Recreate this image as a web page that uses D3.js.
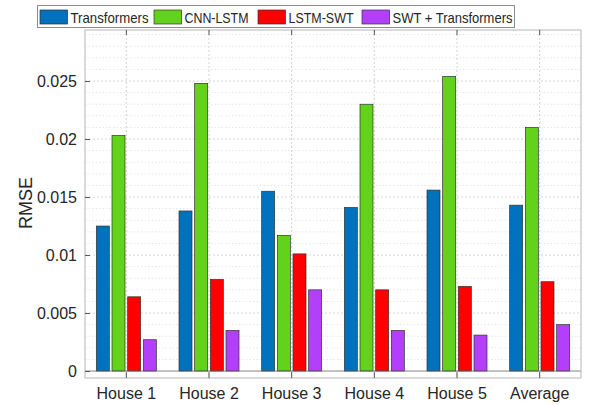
<!DOCTYPE html>
<html>
<head>
<meta charset="utf-8">
<script src="https://cdn.jsdelivr.net/npm/d3@7"></script>
<style>
  body { margin: 0; background: #fff; }
  svg { font-family: "Liberation Sans", Arial, sans-serif; }
</style>
</head>
<body>
<svg width="589" height="405"></svg>
<script>
const houses = ['House 1', 'House 2', 'House 3', 'House 4', 'House 5', 'Average'];
const models = ['Transformers', 'CNN-LSTM', 'LSTM-SWT', 'SWT + Transformers'];

const transformers = [0.0125, 0.0138, 0.0155, 0.0141, 0.0156, 0.0143];
const cnnLstm      = [0.0203, 0.0248, 0.0117, 0.0230, 0.0254, 0.0210];
const lstmSwt      = [0.0064, 0.0079, 0.0101, 0.0070, 0.0073, 0.0077];
const swtTrans     = [0.0027, 0.0035, 0.0070, 0.0035, 0.0031, 0.0040];

const yTicks = [0, 0.005, 0.01, 0.015, 0.02, 0.025];

const colors = ['#0072BD', '#62D31A', '#FF0000', '#B43FFB'];

const series = [transformers, cnnLstm, lstmSwt, swtTrans];
const data = houses.map((h, i) => ({ house: h, values: series.map(s => s[i]) }));

const svg = d3.select('svg');
const margin = { left: 85, right: 8, top: 30, bottom: 27 };
const width = +svg.attr('width');
const height = +svg.attr('height');

const x = d3.scaleBand()
    .domain(houses)
    .range([margin.left, width - margin.right]);

const xInner = d3.scaleBand()
    .domain(models)
    .range([0, 60])
    .paddingInner(0.17);

const y = d3.scaleLinear()
    .domain([-0.0006, 0.0294])
    .range([height - margin.bottom, margin.top]);

// minor grid
const minor = d3.range(0.001, 0.0291, 0.001).filter(v => Math.abs(v / 0.005 - Math.round(v / 0.005)) > 1e-6);
svg.append('g').selectAll('line').data(minor).enter()
    .append('line')
    .attr('x1', margin.left).attr('x2', width - margin.right)
    .attr('y1', d => y(d)).attr('y2', d => y(d))
    .attr('stroke', '#e6e6e6')
    .attr('stroke-dasharray', '1.5,2');

// major grid
svg.append('g').selectAll('line').data(yTicks.slice(1)).enter()
    .append('line')
    .attr('x1', margin.left).attr('x2', width - margin.right)
    .attr('y1', d => y(d)).attr('y2', d => y(d))
    .attr('stroke', '#d4d4d4')
    .attr('stroke-dasharray', '2,2');

svg.append('g').selectAll('line').data(houses).enter()
    .append('line')
    .attr('x1', d => x(d) + x.bandwidth() / 2).attr('x2', d => x(d) + x.bandwidth() / 2)
    .attr('y1', margin.top).attr('y2', height - margin.bottom)
    .attr('stroke', '#d4d4d4')
    .attr('stroke-dasharray', '2,2');

// bars
const groups = svg.append('g').selectAll('g').data(data).enter()
    .append('g')
    .attr('transform', d => `translate(${x(d.house) + x.bandwidth() / 2 - 30},0)`);

groups.selectAll('rect').data(d => d.values.map((v, i) => ({ model: models[i], v, i }))).enter()
    .append('rect')
    .attr('x', d => xInner(d.model))
    .attr('width', xInner.bandwidth())
    .attr('y', d => y(d.v))
    .attr('height', d => y(0) - y(d.v))
    .attr('fill', d => colors[d.i])
    .attr('stroke', '#333')
    .attr('stroke-width', 0.7);

// baseline
svg.append('line')
    .attr('x1', margin.left).attr('x2', width - margin.right)
    .attr('y1', y(0)).attr('y2', y(0))
    .attr('stroke', '#666')
    .attr('stroke-width', 0.8);

// box
svg.append('rect')
    .attr('x', margin.left).attr('y', margin.top)
    .attr('width', width - margin.left - margin.right)
    .attr('height', height - margin.top - margin.bottom)
    .attr('fill', 'none')
    .attr('stroke', '#b5b5b5')
    .attr('stroke-width', 1);

// y axis
const axisY = d3.axisLeft(y)
    .tickValues(yTicks)
    .tickFormat(d => d === 0 ? '0' : String(+d.toFixed(3)))
    .tickSize(-5)
    .tickPadding(8);

const gy = svg.append('g')
    .attr('transform', `translate(${margin.left},0)`)
    .call(axisY);
gy.select('.domain').remove();
gy.selectAll('line').attr('stroke', '#555');
gy.selectAll('text').attr('font-size', 16).attr('fill', '#262626')
    .attr('font-family', '"Liberation Sans", Arial, sans-serif');

// x axis
const axisX = d3.axisBottom(x).tickSize(-6).tickPadding(10);
const gx = svg.append('g')
    .attr('transform', `translate(0,${height - margin.bottom})`)
    .call(axisX);
gx.select('.domain').remove();
gx.selectAll('line').attr('stroke', '#555');
gx.selectAll('text').attr('font-size', 16).attr('fill', '#262626')
    .attr('font-family', '"Liberation Sans", Arial, sans-serif');

// top ticks
svg.append('g').selectAll('line').data(houses).enter()
    .append('line')
    .attr('x1', d => x(d) + x.bandwidth() / 2).attr('x2', d => x(d) + x.bandwidth() / 2)
    .attr('y1', margin.top).attr('y2', margin.top + 5)
    .attr('stroke', '#555');

// y label
svg.append('text')
    .attr('transform', 'translate(32,203) rotate(-90)')
    .attr('text-anchor', 'middle')
    .attr('font-size', 18)
    .attr('fill', '#262626')
    .text('RMSE');

// legend
const legendX = [40, 154, 258, 362];
const legendTextW = [78, 64, 65, 120];
const legend = svg.append('g');
legend.append('rect')
    .attr('x', 37.5).attr('y', 5.5)
    .attr('width', 477).attr('height', 22)
    .attr('fill', '#fff')
    .attr('stroke', '#8c8c8c');

const items = legend.selectAll('g.item').data(models).enter()
    .append('g')
    .attr('class', 'item')
    .attr('transform', (d, i) => `translate(${legendX[i]},0)`);

items.append('rect')
    .attr('x', 0).attr('y', 10)
    .attr('width', 27.5).attr('height', 14)
    .attr('fill', (d, i) => colors[i])
    .attr('stroke', '#333')
    .attr('stroke-width', 0.7);

items.append('text')
    .attr('x', 30.5).attr('y', 22.5)
    .attr('font-size', 15)
    .attr('fill', '#262626')
    .attr('textLength', (d, i) => legendTextW[i])
    .attr('lengthAdjust', 'spacingAndGlyphs')
    .text(d => d);
</script>
</body>
</html>
